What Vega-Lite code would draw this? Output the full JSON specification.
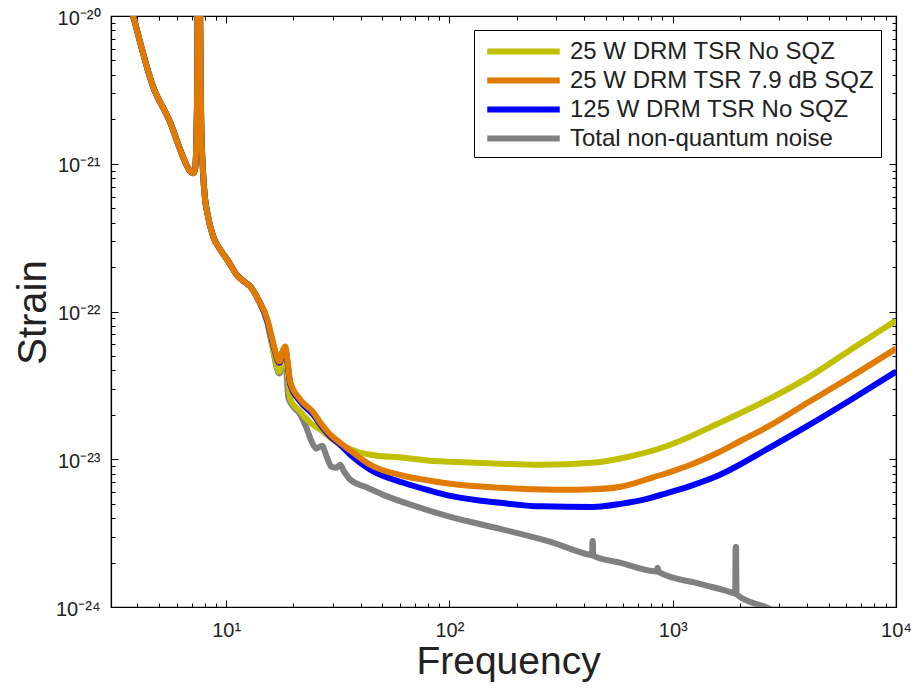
{
  "$schema": "https://vega.github.io/schema/vega-lite/v6.json",
  "width": 785,
  "height": 591,
  "autosize": {"type": "none"},
  "padding": {"left": 111, "top": 16, "right": 20, "bottom": 92},
  "background": "white",
  "config": {
    "view": {"stroke": "black", "strokeWidth": 1.2},
    "font": "Liberation Sans",
    "axis": {"domainColor": "black", "domainWidth": 1.2, "tickColor": "black", "grid": true, "gridOpacity": 0, "labelFlush": false}
  },
  "data": {
    "values": [
      {"s": "Total non-quantum noise", "f": 3.05, "h": 3.4e-20},
      {"s": "Total non-quantum noise", "f": 3.83, "h": 1.0e-20},
      {"s": "Total non-quantum noise", "f": 4.70, "h": 3.35e-21},
      {"s": "Total non-quantum noise", "f": 5.61, "h": 1.91e-21},
      {"s": "Total non-quantum noise", "f": 6.22, "h": 1.25e-21},
      {"s": "Total non-quantum noise", "f": 6.62, "h": 9.92e-22},
      {"s": "Total non-quantum noise", "f": 6.90, "h": 8.89e-22},
      {"s": "Total non-quantum noise", "f": 7.11, "h": 8.62e-22},
      {"s": "Total non-quantum noise", "f": 7.26, "h": 9.18e-22},
      {"s": "Total non-quantum noise", "f": 7.41, "h": 2.74e-21},
      {"s": "Total non-quantum noise", "f": 7.49, "h": 3e-20},
      {"s": "Total non-quantum noise", "f": 7.57, "h": 3e-20},
      {"s": "Total non-quantum noise", "f": 7.73, "h": 2.0e-21},
      {"s": "Total non-quantum noise", "f": 7.89, "h": 8.49e-22},
      {"s": "Total non-quantum noise", "f": 8.05, "h": 5.74e-22},
      {"s": "Total non-quantum noise", "f": 8.22, "h": 4.69e-22},
      {"s": "Total non-quantum noise", "f": 8.74, "h": 3.23e-22},
      {"s": "Total non-quantum noise", "f": 9.40, "h": 2.63e-22},
      {"s": "Total non-quantum noise", "f": 10.1, "h": 2.25e-22},
      {"s": "Total non-quantum noise", "f": 11.3, "h": 1.73e-22},
      {"s": "Total non-quantum noise", "f": 12.2, "h": 1.57e-22},
      {"s": "Total non-quantum noise", "f": 12.8, "h": 1.48e-22},
      {"s": "Total non-quantum noise", "f": 13.9, "h": 1.21e-22},
      {"s": "Total non-quantum noise", "f": 15.3, "h": 8.4e-23},
      {"s": "Total non-quantum noise", "f": 16.1, "h": 5.8e-23},
      {"s": "Total non-quantum noise", "f": 17.3, "h": 3.8e-23},
      {"s": "Total non-quantum noise", "f": 18.0, "h": 4.5e-23},
      {"s": "Total non-quantum noise", "f": 18.4, "h": 4.7e-23},
      {"s": "Total non-quantum noise", "f": 19.0, "h": 2.61e-23},
      {"s": "Total non-quantum noise", "f": 19.4, "h": 2.42e-23},
      {"s": "Total non-quantum noise", "f": 21.5, "h": 2.0e-23},
      {"s": "Total non-quantum noise", "f": 22.6, "h": 1.71e-23},
      {"s": "Total non-quantum noise", "f": 24.3, "h": 1.29e-23},
      {"s": "Total non-quantum noise", "f": 25.3, "h": 1.18e-23},
      {"s": "Total non-quantum noise", "f": 26.9, "h": 1.234e-23},
      {"s": "Total non-quantum noise", "f": 28.1, "h": 1.056e-23},
      {"s": "Total non-quantum noise", "f": 29.6, "h": 8.9e-24},
      {"s": "Total non-quantum noise", "f": 31.1, "h": 8.76e-24},
      {"s": "Total non-quantum noise", "f": 32.4, "h": 9.18e-24},
      {"s": "Total non-quantum noise", "f": 33.8, "h": 8.23e-24},
      {"s": "Total non-quantum noise", "f": 36.0, "h": 7.26e-24},
      {"s": "Total non-quantum noise", "f": 42.0, "h": 6.51e-24},
      {"s": "Total non-quantum noise", "f": 50.6, "h": 5.74e-24},
      {"s": "Total non-quantum noise", "f": 71.9, "h": 4.76e-24},
      {"s": "Total non-quantum noise", "f": 101, "h": 4.07e-24},
      {"s": "Total non-quantum noise", "f": 169, "h": 3.38e-24},
      {"s": "Total non-quantum noise", "f": 284, "h": 2.76e-24},
      {"s": "Total non-quantum noise", "f": 429, "h": 2.25e-24},
      {"s": "Total non-quantum noise", "f": 436, "h": 2.24e-24},
      {"s": "Total non-quantum noise", "f": 437, "h": 2.8e-24},
      {"s": "Total non-quantum noise", "f": 439, "h": 2.8e-24},
      {"s": "Total non-quantum noise", "f": 440, "h": 2.23e-24},
      {"s": "Total non-quantum noise", "f": 585, "h": 1.99e-24},
      {"s": "Total non-quantum noise", "f": 845, "h": 1.74e-24},
      {"s": "Total non-quantum noise", "f": 856, "h": 1.84e-24},
      {"s": "Total non-quantum noise", "f": 867, "h": 1.72e-24},
      {"s": "Total non-quantum noise", "f": 1336, "h": 1.43e-24},
      {"s": "Total non-quantum noise", "f": 1877, "h": 1.24e-24},
      {"s": "Total non-quantum noise", "f": 1905, "h": 1.23e-24},
      {"s": "Total non-quantum noise", "f": 1912, "h": 2.55e-24},
      {"s": "Total non-quantum noise", "f": 1922, "h": 2.55e-24},
      {"s": "Total non-quantum noise", "f": 1930, "h": 1.22e-24},
      {"s": "Total non-quantum noise", "f": 2667, "h": 9.84e-25},
      {"s": "Total non-quantum noise", "f": 3381, "h": 8.2e-25},

      {"s": "25 W DRM TSR No SQZ", "f": 3.05, "h": 3.4e-20},
      {"s": "25 W DRM TSR No SQZ", "f": 3.83, "h": 1.0e-20},
      {"s": "25 W DRM TSR No SQZ", "f": 4.70, "h": 3.35e-21},
      {"s": "25 W DRM TSR No SQZ", "f": 5.61, "h": 1.91e-21},
      {"s": "25 W DRM TSR No SQZ", "f": 6.22, "h": 1.25e-21},
      {"s": "25 W DRM TSR No SQZ", "f": 6.62, "h": 9.92e-22},
      {"s": "25 W DRM TSR No SQZ", "f": 6.90, "h": 8.89e-22},
      {"s": "25 W DRM TSR No SQZ", "f": 7.11, "h": 8.62e-22},
      {"s": "25 W DRM TSR No SQZ", "f": 7.26, "h": 9.18e-22},
      {"s": "25 W DRM TSR No SQZ", "f": 7.41, "h": 2.74e-21},
      {"s": "25 W DRM TSR No SQZ", "f": 7.49, "h": 3e-20},
      {"s": "25 W DRM TSR No SQZ", "f": 7.57, "h": 3e-20},
      {"s": "25 W DRM TSR No SQZ", "f": 7.73, "h": 2.0e-21},
      {"s": "25 W DRM TSR No SQZ", "f": 7.89, "h": 8.49e-22},
      {"s": "25 W DRM TSR No SQZ", "f": 8.05, "h": 5.74e-22},
      {"s": "25 W DRM TSR No SQZ", "f": 8.22, "h": 4.69e-22},
      {"s": "25 W DRM TSR No SQZ", "f": 8.74, "h": 3.23e-22},
      {"s": "25 W DRM TSR No SQZ", "f": 9.40, "h": 2.63e-22},
      {"s": "25 W DRM TSR No SQZ", "f": 10.1, "h": 2.25e-22},
      {"s": "25 W DRM TSR No SQZ", "f": 11.3, "h": 1.73e-22},
      {"s": "25 W DRM TSR No SQZ", "f": 12.2, "h": 1.57e-22},
      {"s": "25 W DRM TSR No SQZ", "f": 12.8, "h": 1.48e-22},
      {"s": "25 W DRM TSR No SQZ", "f": 13.9, "h": 1.21e-22},
      {"s": "25 W DRM TSR No SQZ", "f": 15.3, "h": 8.55e-23},
      {"s": "25 W DRM TSR No SQZ", "f": 16.1, "h": 5.97e-23},
      {"s": "25 W DRM TSR No SQZ", "f": 17.3, "h": 3.92e-23},
      {"s": "25 W DRM TSR No SQZ", "f": 18.0, "h": 4.88e-23},
      {"s": "25 W DRM TSR No SQZ", "f": 18.4, "h": 5.11e-23},
      {"s": "25 W DRM TSR No SQZ", "f": 19.0, "h": 3.46e-23},
      {"s": "25 W DRM TSR No SQZ", "f": 19.4, "h": 2.53e-23},
      {"s": "25 W DRM TSR No SQZ", "f": 21.5, "h": 2.1e-23},
      {"s": "25 W DRM TSR No SQZ", "f": 23.8, "h": 1.77e-23},
      {"s": "25 W DRM TSR No SQZ", "f": 26.4, "h": 1.585e-23},
      {"s": "25 W DRM TSR No SQZ", "f": 31.5, "h": 1.29e-23},
      {"s": "25 W DRM TSR No SQZ", "f": 38.7, "h": 1.124e-23},
      {"s": "25 W DRM TSR No SQZ", "f": 44.2, "h": 1.073e-23},
      {"s": "25 W DRM TSR No SQZ", "f": 62.2, "h": 1.024e-23},
      {"s": "25 W DRM TSR No SQZ", "f": 82.2, "h": 9.77e-24},
      {"s": "25 W DRM TSR No SQZ", "f": 101, "h": 9.62e-24},
      {"s": "25 W DRM TSR No SQZ", "f": 169, "h": 9.32e-24},
      {"s": "25 W DRM TSR No SQZ", "f": 256, "h": 9.18e-24},
      {"s": "25 W DRM TSR No SQZ", "f": 438, "h": 9.47e-24},
      {"s": "25 W DRM TSR No SQZ", "f": 635, "h": 1.04e-23},
      {"s": "25 W DRM TSR No SQZ", "f": 950, "h": 1.234e-23},
      {"s": "25 W DRM TSR No SQZ", "f": 1591, "h": 1.74e-23},
      {"s": "25 W DRM TSR No SQZ", "f": 2667, "h": 2.53e-23},
      {"s": "25 W DRM TSR No SQZ", "f": 4031, "h": 3.57e-23},
      {"s": "25 W DRM TSR No SQZ", "f": 6284, "h": 5.53e-23},
      {"s": "25 W DRM TSR No SQZ", "f": 10000, "h": 8.69e-23},

      {"s": "125 W DRM TSR No SQZ", "f": 3.05, "h": 3.4e-20},
      {"s": "125 W DRM TSR No SQZ", "f": 3.83, "h": 1.0e-20},
      {"s": "125 W DRM TSR No SQZ", "f": 4.70, "h": 3.35e-21},
      {"s": "125 W DRM TSR No SQZ", "f": 5.61, "h": 1.91e-21},
      {"s": "125 W DRM TSR No SQZ", "f": 6.22, "h": 1.25e-21},
      {"s": "125 W DRM TSR No SQZ", "f": 6.62, "h": 9.92e-22},
      {"s": "125 W DRM TSR No SQZ", "f": 6.90, "h": 8.89e-22},
      {"s": "125 W DRM TSR No SQZ", "f": 7.11, "h": 8.62e-22},
      {"s": "125 W DRM TSR No SQZ", "f": 7.26, "h": 9.18e-22},
      {"s": "125 W DRM TSR No SQZ", "f": 7.41, "h": 2.74e-21},
      {"s": "125 W DRM TSR No SQZ", "f": 7.49, "h": 3e-20},
      {"s": "125 W DRM TSR No SQZ", "f": 7.57, "h": 3e-20},
      {"s": "125 W DRM TSR No SQZ", "f": 7.73, "h": 2.0e-21},
      {"s": "125 W DRM TSR No SQZ", "f": 7.89, "h": 8.49e-22},
      {"s": "125 W DRM TSR No SQZ", "f": 8.05, "h": 5.74e-22},
      {"s": "125 W DRM TSR No SQZ", "f": 8.22, "h": 4.69e-22},
      {"s": "125 W DRM TSR No SQZ", "f": 8.74, "h": 3.23e-22},
      {"s": "125 W DRM TSR No SQZ", "f": 9.40, "h": 2.63e-22},
      {"s": "125 W DRM TSR No SQZ", "f": 10.1, "h": 2.25e-22},
      {"s": "125 W DRM TSR No SQZ", "f": 11.3, "h": 1.73e-22},
      {"s": "125 W DRM TSR No SQZ", "f": 12.2, "h": 1.57e-22},
      {"s": "125 W DRM TSR No SQZ", "f": 12.8, "h": 1.48e-22},
      {"s": "125 W DRM TSR No SQZ", "f": 13.9, "h": 1.21e-22},
      {"s": "125 W DRM TSR No SQZ", "f": 15.3, "h": 8.6e-23},
      {"s": "125 W DRM TSR No SQZ", "f": 16.1, "h": 6.3e-23},
      {"s": "125 W DRM TSR No SQZ", "f": 17.3, "h": 4.5e-23},
      {"s": "125 W DRM TSR No SQZ", "f": 18.0, "h": 5.4e-23},
      {"s": "125 W DRM TSR No SQZ", "f": 18.4, "h": 5.6e-23},
      {"s": "125 W DRM TSR No SQZ", "f": 18.8, "h": 4.6e-23},
      {"s": "125 W DRM TSR No SQZ", "f": 19.4, "h": 3.2e-23},
      {"s": "125 W DRM TSR No SQZ", "f": 21.5, "h": 2.45e-23},
      {"s": "125 W DRM TSR No SQZ", "f": 24.6, "h": 2.0e-23},
      {"s": "125 W DRM TSR No SQZ", "f": 26.4, "h": 1.72e-23},
      {"s": "125 W DRM TSR No SQZ", "f": 28.7, "h": 1.47e-23},
      {"s": "125 W DRM TSR No SQZ", "f": 32.4, "h": 1.254e-23},
      {"s": "125 W DRM TSR No SQZ", "f": 36.0, "h": 1.073e-23},
      {"s": "125 W DRM TSR No SQZ", "f": 44.2, "h": 8.49e-24},
      {"s": "125 W DRM TSR No SQZ", "f": 62.2, "h": 6.93e-24},
      {"s": "125 W DRM TSR No SQZ", "f": 82.2, "h": 6.12e-24},
      {"s": "125 W DRM TSR No SQZ", "f": 101, "h": 5.65e-24},
      {"s": "125 W DRM TSR No SQZ", "f": 169, "h": 5.07e-24},
      {"s": "125 W DRM TSR No SQZ", "f": 256, "h": 4.8e-24},
      {"s": "125 W DRM TSR No SQZ", "f": 438, "h": 4.76e-24},
      {"s": "125 W DRM TSR No SQZ", "f": 585, "h": 4.99e-24},
      {"s": "125 W DRM TSR No SQZ", "f": 797, "h": 5.48e-24},
      {"s": "125 W DRM TSR No SQZ", "f": 950, "h": 5.93e-24},
      {"s": "125 W DRM TSR No SQZ", "f": 1204, "h": 6.61e-24},
      {"s": "125 W DRM TSR No SQZ", "f": 1591, "h": 7.73e-24},
      {"s": "125 W DRM TSR No SQZ", "f": 2667, "h": 1.178e-23},
      {"s": "125 W DRM TSR No SQZ", "f": 4031, "h": 1.687e-23},
      {"s": "125 W DRM TSR No SQZ", "f": 6284, "h": 2.53e-23},
      {"s": "125 W DRM TSR No SQZ", "f": 10000, "h": 3.92e-23},

      {"s": "25 W DRM TSR 7.9 dB SQZ", "f": 3.05, "h": 3.4e-20},
      {"s": "25 W DRM TSR 7.9 dB SQZ", "f": 3.83, "h": 1.0e-20},
      {"s": "25 W DRM TSR 7.9 dB SQZ", "f": 4.70, "h": 3.35e-21},
      {"s": "25 W DRM TSR 7.9 dB SQZ", "f": 5.61, "h": 1.91e-21},
      {"s": "25 W DRM TSR 7.9 dB SQZ", "f": 6.22, "h": 1.25e-21},
      {"s": "25 W DRM TSR 7.9 dB SQZ", "f": 6.62, "h": 9.92e-22},
      {"s": "25 W DRM TSR 7.9 dB SQZ", "f": 6.90, "h": 8.89e-22},
      {"s": "25 W DRM TSR 7.9 dB SQZ", "f": 7.11, "h": 8.62e-22},
      {"s": "25 W DRM TSR 7.9 dB SQZ", "f": 7.26, "h": 9.18e-22},
      {"s": "25 W DRM TSR 7.9 dB SQZ", "f": 7.41, "h": 2.74e-21},
      {"s": "25 W DRM TSR 7.9 dB SQZ", "f": 7.49, "h": 3e-20},
      {"s": "25 W DRM TSR 7.9 dB SQZ", "f": 7.57, "h": 3e-20},
      {"s": "25 W DRM TSR 7.9 dB SQZ", "f": 7.73, "h": 2.0e-21},
      {"s": "25 W DRM TSR 7.9 dB SQZ", "f": 7.89, "h": 8.49e-22},
      {"s": "25 W DRM TSR 7.9 dB SQZ", "f": 8.05, "h": 5.74e-22},
      {"s": "25 W DRM TSR 7.9 dB SQZ", "f": 8.22, "h": 4.69e-22},
      {"s": "25 W DRM TSR 7.9 dB SQZ", "f": 8.74, "h": 3.23e-22},
      {"s": "25 W DRM TSR 7.9 dB SQZ", "f": 9.40, "h": 2.63e-22},
      {"s": "25 W DRM TSR 7.9 dB SQZ", "f": 10.1, "h": 2.25e-22},
      {"s": "25 W DRM TSR 7.9 dB SQZ", "f": 11.3, "h": 1.73e-22},
      {"s": "25 W DRM TSR 7.9 dB SQZ", "f": 12.2, "h": 1.57e-22},
      {"s": "25 W DRM TSR 7.9 dB SQZ", "f": 12.8, "h": 1.48e-22},
      {"s": "25 W DRM TSR 7.9 dB SQZ", "f": 13.9, "h": 1.21e-22},
      {"s": "25 W DRM TSR 7.9 dB SQZ", "f": 15.3, "h": 8.83e-23},
      {"s": "25 W DRM TSR 7.9 dB SQZ", "f": 16.1, "h": 6.46e-23},
      {"s": "25 W DRM TSR 7.9 dB SQZ", "f": 17.3, "h": 4.58e-23},
      {"s": "25 W DRM TSR 7.9 dB SQZ", "f": 18.0, "h": 5.53e-23},
      {"s": "25 W DRM TSR 7.9 dB SQZ", "f": 18.4, "h": 5.79e-23},
      {"s": "25 W DRM TSR 7.9 dB SQZ", "f": 18.8, "h": 4.73e-23},
      {"s": "25 W DRM TSR 7.9 dB SQZ", "f": 19.4, "h": 3.3e-23},
      {"s": "25 W DRM TSR 7.9 dB SQZ", "f": 21.5, "h": 2.53e-23},
      {"s": "25 W DRM TSR 7.9 dB SQZ", "f": 24.6, "h": 2.07e-23},
      {"s": "25 W DRM TSR 7.9 dB SQZ", "f": 26.4, "h": 1.77e-23},
      {"s": "25 W DRM TSR 7.9 dB SQZ", "f": 28.7, "h": 1.51e-23},
      {"s": "25 W DRM TSR 7.9 dB SQZ", "f": 32.4, "h": 1.29e-23},
      {"s": "25 W DRM TSR 7.9 dB SQZ", "f": 37.1, "h": 1.107e-23},
      {"s": "25 W DRM TSR 7.9 dB SQZ", "f": 44.2, "h": 9.18e-24},
      {"s": "25 W DRM TSR 7.9 dB SQZ", "f": 62.2, "h": 7.73e-24},
      {"s": "25 W DRM TSR 7.9 dB SQZ", "f": 82.2, "h": 7.15e-24},
      {"s": "25 W DRM TSR 7.9 dB SQZ", "f": 101, "h": 6.82e-24},
      {"s": "25 W DRM TSR 7.9 dB SQZ", "f": 169, "h": 6.41e-24},
      {"s": "25 W DRM TSR 7.9 dB SQZ", "f": 208, "h": 6.31e-24},
      {"s": "25 W DRM TSR 7.9 dB SQZ", "f": 315, "h": 6.21e-24},
      {"s": "25 W DRM TSR 7.9 dB SQZ", "f": 438, "h": 6.26e-24},
      {"s": "25 W DRM TSR 7.9 dB SQZ", "f": 585, "h": 6.51e-24},
      {"s": "25 W DRM TSR 7.9 dB SQZ", "f": 797, "h": 7.45e-24},
      {"s": "25 W DRM TSR 7.9 dB SQZ", "f": 950, "h": 8.1e-24},
      {"s": "25 W DRM TSR 7.9 dB SQZ", "f": 1204, "h": 9.18e-24},
      {"s": "25 W DRM TSR 7.9 dB SQZ", "f": 1591, "h": 1.107e-23},
      {"s": "25 W DRM TSR 7.9 dB SQZ", "f": 2018, "h": 1.334e-23},
      {"s": "25 W DRM TSR 7.9 dB SQZ", "f": 2667, "h": 1.66e-23},
      {"s": "25 W DRM TSR 7.9 dB SQZ", "f": 4031, "h": 2.42e-23},
      {"s": "25 W DRM TSR 7.9 dB SQZ", "f": 6284, "h": 3.62e-23},
      {"s": "25 W DRM TSR 7.9 dB SQZ", "f": 10000, "h": 5.61e-23}
    ]
  },
  "layer": [
    {
      "mark": {"type": "line", "clip": true, "strokeJoin": "round", "strokeCap": "butt", "interpolate": "monotone"},
      "encoding": {
        "x": {
          "field": "f", "type": "quantitative",
          "scale": {"type": "log", "domain": [3.05, 10000], "nice": false},
          "axis": {
            "orient": "bottom",
            "title": "Frequency",
            "tickCount": 60,
            "labelExpr": "abs(log(datum.value)/LN10 - round(log(datum.value)/LN10)) > 0.000001 ? '' : ['10⁰','10¹','10²','10³','10⁴'][round(log(datum.value)/LN10)]",
            "labelOverlap": false,
            "tickSize": {"condition": {"test": "abs(log(datum.value)/LN10 - round(log(datum.value)/LN10)) < 0.000001", "value": -7}, "value": -4},
            "tickColor": "black",
            "labelFont": "Liberation Sans", "labelFontSize": 20, "labelColor": "#222222",
            "labelPadding": 20, "labelBaseline": "top",
            "titleFont": "Liberation Sans", "titleFontSize": 39, "titleFontWeight": "normal", "titleColor": "#222222",
            "titleX": 397, "titleY": 66, "titleBaseline": "alphabetic", "titleAlign": "center"
          }
        },
        "y": {
          "field": "h", "type": "quantitative",
          "scale": {"type": "log", "domain": [1e-24, 1e-20], "nice": false},
          "axis": {
            "orient": "left",
            "title": "Strain",
            "tickCount": 60,
            "labelExpr": "abs(log(datum.value)/LN10 - round(log(datum.value)/LN10)) > 0.000001 ? '' : ['10⁻²⁴','10⁻²³','10⁻²²','10⁻²¹','10⁻²⁰'][round(log(datum.value)/LN10) + 24]",
            "labelOverlap": false,
            "tickSize": {"condition": {"test": "abs(log(datum.value)/LN10 - round(log(datum.value)/LN10)) < 0.000001", "value": -7}, "value": -4},
            "tickColor": "black",
            "labelFont": "Liberation Sans", "labelFontSize": 20, "labelColor": "#222222",
            "labelPadding": 18, "labelOffset": 2,
            "titleFont": "Liberation Sans", "titleFontSize": 40, "titleFontWeight": "normal", "titleColor": "#222222",
            "titleX": -66, "titleY": 296, "titleBaseline": "alphabetic", "titleAlign": "center", "titleAngle": -90
          }
        },
        "color": {
          "field": "s", "type": "nominal",
          "scale": {
            "domain": ["25 W DRM TSR No SQZ", "25 W DRM TSR 7.9 dB SQZ", "125 W DRM TSR No SQZ", "Total non-quantum noise"],
            "range": ["#C0C000", "#E07B00", "#0000FF", "#808080"]
          },
          "legend": {
            "orient": "none", "legendX": 363, "legendY": 14,
            "title": null,
            "symbolType": "M-2.9,0H2.9", "symbolSize": 625, "symbolStrokeWidth": 5,
            "symbolOffset": 28, "labelOffset": 31, "labelLimit": 500,
            "labelFont": "Liberation Sans", "labelFontSize": 24, "labelColor": "#222222",
            "strokeColor": "black", "fillColor": "white", "padding": 6, "rowPadding": 1,
            "cornerRadius": 0
          }
        },
        "strokeWidth": {
          "field": "s", "type": "nominal",
          "scale": {
            "domain": ["25 W DRM TSR No SQZ", "25 W DRM TSR 7.9 dB SQZ", "125 W DRM TSR No SQZ", "Total non-quantum noise"],
            "range": [6, 6, 6, 4]
          },
          "legend": null
        }
      }
    },
    {
      "mark": {"type": "point", "opacity": 0, "size": 0},
      "encoding": {
        "x": {
          "field": "f", "type": "quantitative",
          "axis": {
            "orient": "top", "title": null, "labels": false,
            "tickCount": 60,
            "tickSize": {"condition": {"test": "abs(log(datum.value)/LN10 - round(log(datum.value)/LN10)) < 0.000001", "value": -7}, "value": -4},
            "tickColor": "black"
          }
        },
        "y": {
          "field": "h", "type": "quantitative",
          "axis": {
            "orient": "right", "title": null, "labels": false,
            "tickCount": 60,
            "tickSize": {"condition": {"test": "abs(log(datum.value)/LN10 - round(log(datum.value)/LN10)) < 0.000001", "value": -7}, "value": -4},
            "tickColor": "black"
          }
        }
      }
    }
  ],
  "resolve": {"axis": {"x": "independent", "y": "independent"}}
}
